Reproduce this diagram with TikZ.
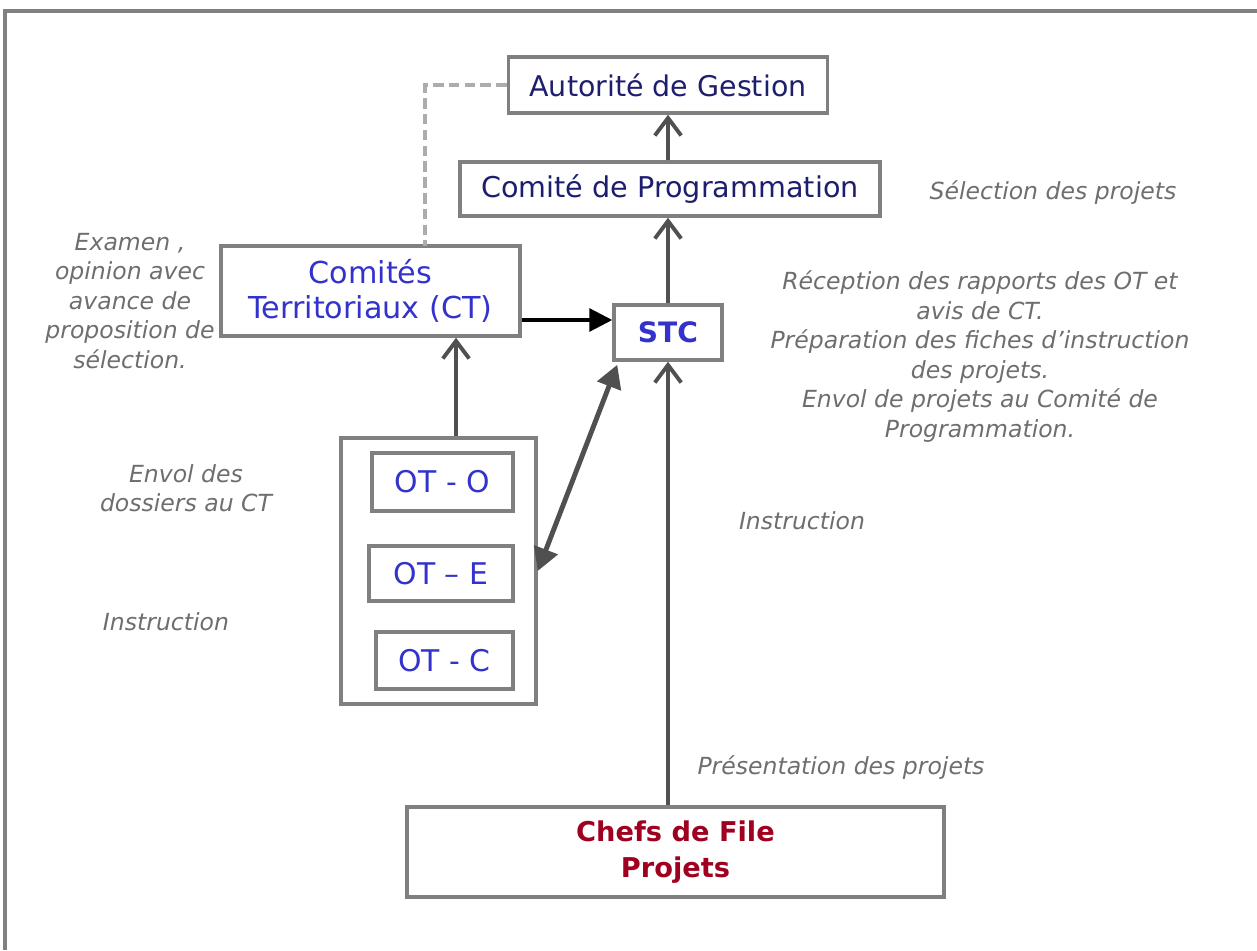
\documentclass[tikz,border=0pt]{standalone}
\usepackage{fontspec}
\setmainfont{DejaVu Sans}
\usetikzlibrary{arrows.meta}

\definecolor{agnavy}{RGB}{30,30,110}
\definecolor{ctblue}{RGB}{51,51,204}
\definecolor{cfred}{RGB}{160,0,32}
\definecolor{notegray}{RGB}{110,110,110}
\definecolor{boxgray}{RGB}{128,128,128}
\definecolor{arrowgray}{RGB}{80,80,80}

\begin{document}
\begin{tikzpicture}[x=0.02cm, y=-0.02cm,
    box/.style={draw=boxgray, line width=2pt, fill=white, inner sep=0pt, align=center},
    note/.style={text=notegray, font=\fontsize{13.4}{16.8}\selectfont\itshape, align=center},
    up/.style={draw=arrowgray, line width=1.8pt, -{Straight Barb[length=10pt, width=15pt, line width=2.2pt]}}]
    \useasboundingbox (0,0) rectangle (1257,950);
    \draw[boxgray, line width=2pt] (5,950) -- (5,11) -- (1257,11);

    \node[box, minimum width=6.38cm, minimum height=1.12cm, text=agnavy, font=\fontsize{16.2}{19}\selectfont] (AG) at (668, 85) {Autorité de Gestion};
    \node[box, minimum width=8.4cm, minimum height=1.08cm, text=agnavy, font=\fontsize{16.3}{19}\selectfont] (CP) at (670, 189) {Comité de Programmation};
    \node[box, minimum width=5.98cm, minimum height=1.8cm, text=ctblue, font=\fontsize{17.2}{20}\selectfont] (CT) at (370.5, 291) {Comités\\Territoriaux (CT)};
    \node[box, minimum width=2.16cm, minimum height=1.1cm, text=ctblue, font=\fontsize{16}{19}\selectfont\bfseries] (STC) at (668, 332.5) {STC};
    \node[box, minimum width=3.9cm, minimum height=5.32cm] (OT) at (438.5, 571) {};
    \node[box, minimum width=2.82cm, minimum height=1.16cm, text=ctblue, font=\fontsize{17}{19}\selectfont] (OTO) at (442.5, 482) {OT - O};
    \node[box, minimum width=2.88cm, minimum height=1.1cm, text=ctblue, font=\fontsize{17}{19}\selectfont] (OTE) at (441, 573.5) {OT – E};
    \node[box, minimum width=2.74cm, minimum height=1.14cm, text=ctblue, font=\fontsize{17}{19}\selectfont] (OTC) at (444.5, 660.5) {OT - C};
    \node[box, minimum width=10.74cm, minimum height=1.8cm, text=cfred, font=\fontsize{15.5}{20.5}\selectfont\bfseries] (CF) at (675.5, 852) {Chefs de File\\Projets};

    \node[note] (selection) at (1053, 193) {Sélection des projets};
    \node[note] (reception) at (980, 356.5) {Réception des rapports des OT et\\avis de CT.\\Préparation des fiches d’instruction\\des projets.\\Envol de projets au Comité de\\Programmation.};
    \node[note] (instrR) at (802, 521) {Instruction};
    \node[note] (presentation) at (841, 768) {Présentation des projets};
    \node[note] (examen) at (130, 301) {Examen ,\\opinion avec\\avance de\\proposition de\\sélection.};
    \node[note] (envol) at (186, 488) {Envol des\\dossiers au CT};
    \node[note] (instrL) at (166, 622) {Instruction};

    \coordinate (CTtop) at (425, 246);

    % 矢印を引く
    \draw[boxgray!65, line width=1.8pt, dash pattern=on 6pt off 3pt] (AG.west) -| (CTtop);
    \draw[up] (CP.north -| AG.south) -- (AG.south);
    \draw[up] (STC.north) -- (STC.north |- CP.south);
    \draw[up] (CF.north -| STC.south) -- (STC.south);
    \draw[up] ([xshift=0.35cm]OT.north) -- ([xshift=0.35cm]OT.north |- CT.south);
    \draw[black, line width=1.8pt, -{Triangle[length=13pt, width=13pt]}] ([yshift=-0.58cm]CT.east) -- ([yshift=-0.58cm]CT.east -| STC.west);
    \draw[arrowgray, line width=2.8pt, {Triangle[length=13pt, width=14pt]}-{Triangle[length=13pt, width=14pt]}] (OT.east) -- ([xshift=0.1cm, yshift=-0.06cm]STC.south west);
\end{tikzpicture}
\end{document}
